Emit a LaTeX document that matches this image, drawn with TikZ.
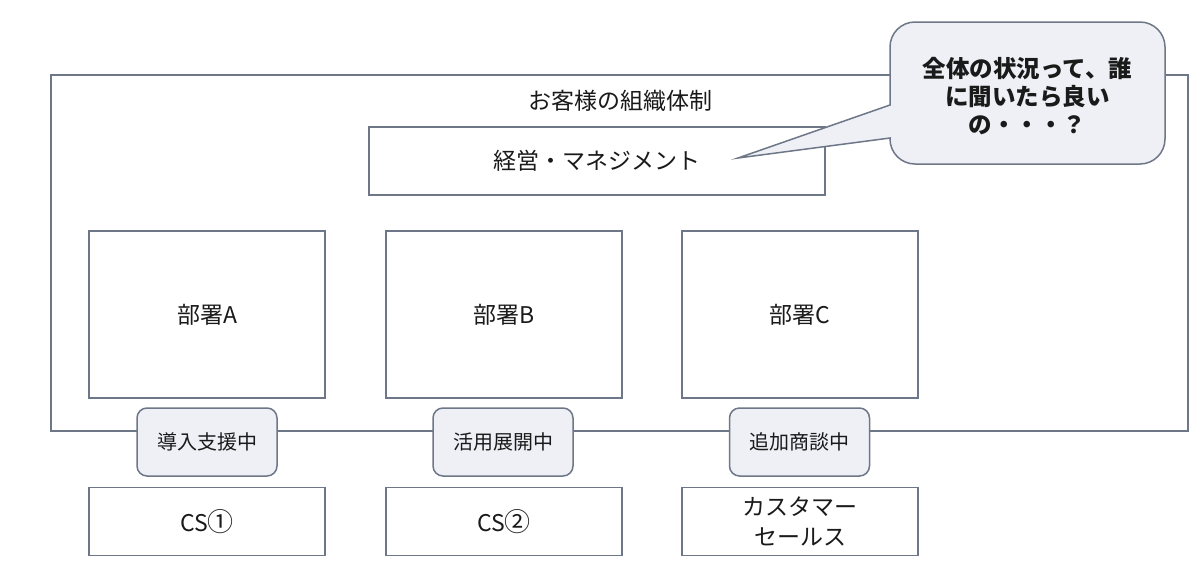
\documentclass[tikz,border=0pt]{standalone}
\usepackage{fontspec}
\setmainfont{Noto Sans CJK JP}
\newfontfamily\jp{Noto Sans CJK JP}
\definecolor{linec}{HTML}{6E7787}
\definecolor{tagfill}{HTML}{EEF0F6}
\definecolor{txt}{HTML}{1A1A1A}
\begin{document}
\begin{tikzpicture}[x=1pt,y=-1pt,
  every node/.style={text=txt,font=\jp\fontsize{23}{28}\selectfont},
  box/.style={draw=linec,line width=1.5pt,fill=white,inner sep=0pt},
  tagbox/.style={draw=linec,line width=1.5pt,fill=tagfill,rounded corners=10pt,inner sep=0pt,
     minimum width=140pt,minimum height=68pt,font=\jp\fontsize{20}{24}\selectfont},
  dept/.style={box,minimum width=236pt,minimum height=167pt},
  cs/.style={box,minimum width=236pt,minimum height=68pt,align=center,font=\jp\fontsize{23}{30}\selectfont},
  bubble/.style={draw=linec,line width=1.5pt,fill=tagfill}]
\useasboundingbox (0,0) rectangle (1200,566);
\node[box,minimum width=1137pt,minimum height=356pt] (outer) at (619.5,253) {};
\node (title) at (620,101) {お客様の組織体制};
\node[box,minimum width=456pt,minimum height=68pt] (mgmt) at (597,161) {経営・マネジメント};
\node[dept] (da) at (207,314.5) {部署A};
\node[dept] (db) at (504,314.5) {部署B};
\node[dept] (dc) at (800,314.5) {部署C};
\node[tagbox] (ta) at (207,442) {導入支援中};
\node[tagbox] (tb) at (503,442) {活用展開中};
\node[tagbox] (tc) at (799.5,442) {追加商談中};
\node[cs] (ca) at (207,521.5) {CS{\fontsize{26}{30}\selectfont ①}};
\node[cs] (cb) at (504,521.5) {CS{\fontsize{26}{30}\selectfont ②}};
\node[cs] (cc) at (800,521.5) {カスタマー\\セールス};
\coordinate (tip) at (738,158);
\draw[bubble] (tip) -- (890,138) [rounded corners=25pt] -- (890,164) -- (1165,164) -- (1165,22) -- (890,22) [sharp corners] -- (890,105) -- cycle;
\node[align=center,font=\jp\bfseries\fontsize{23.5}{28}\selectfont] (q) at (1027.5,96) {全体の状況って、誰\\に聞いたら良い\\の・・・？};
\end{tikzpicture}
\end{document}
